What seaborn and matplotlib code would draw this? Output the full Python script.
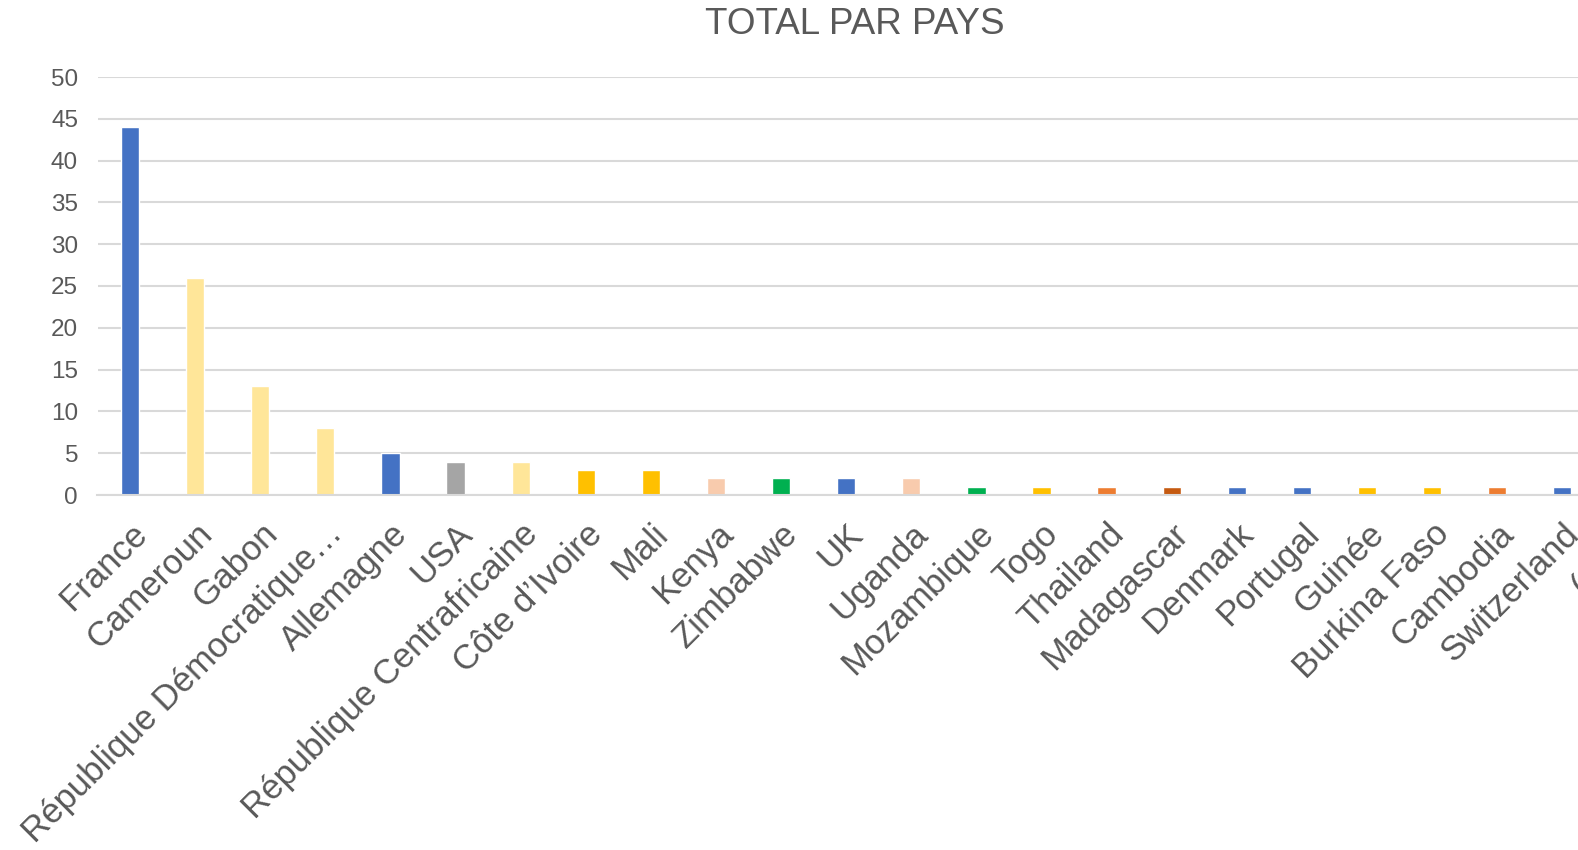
import matplotlib
matplotlib.use("Agg")
import matplotlib.pyplot as plt
import seaborn as sns
import pandas as pd

# Data
pays = [
    "France", "Cameroun", "Gabon", "République Démocratique…", "Allemagne", "USA",
    "République Centrafricaine", "Côte d’Ivoire", "Mali", "Kenya", "Zimbabwe", "UK",
    "Uganda", "Mozambique", "Togo", "Thailand", "Madagascar", "Denmark", "Portugal",
    "Guinée", "Burkina Faso", "Cambodia", "Switzerland", "(vide)",
]
totaux = [44, 26, 13, 8, 5, 4, 4, 3, 3, 2, 2, 2, 2, 1, 1, 1, 1, 1, 1, 1, 1, 1, 1, 0]

BLUE, LYELLOW, GRAY, GOLD = "#4472C4", "#FFE699", "#A5A5A5", "#FFC000"
PEACH, GREEN, ORANGE, DORANGE = "#F8CBAD", "#00B050", "#ED7D31", "#C55A11"
couleurs = [
    BLUE, LYELLOW, LYELLOW, LYELLOW, BLUE, GRAY, LYELLOW, GOLD, GOLD, PEACH, GREEN, BLUE,
    PEACH, GREEN, GOLD, ORANGE, DORANGE, BLUE, BLUE, GOLD, GOLD, ORANGE, BLUE, BLUE,
]

df = pd.DataFrame({"pays": pays, "total": totaux})

sns.set_style("white")
plt.rcParams["font.family"] = ["Liberation Sans", "DejaVu Sans"]
text_col = "#595959"
grid_col = "#D9D9D9"

fig = plt.figure(figsize=(15.78, 8.5), dpi=100)
# axes run past the right edge, like the cropped original
ax = fig.add_axes([97.5 / 1578, 355 / 850, (1660 - 97.5) / 1578, 418 / 850])

sns.barplot(data=df, x="pays", y="total", hue="pays", palette=couleurs,
            width=0.28, legend=False, saturation=1, ax=ax)

ax.set_ylim(0, 50)
ax.set_xlim(-0.5, len(pays) - 0.5)
ax.set_yticks(range(0, 51, 5))
ax.yaxis.grid(True, color=grid_col, linewidth=1.5)
ax.set_axisbelow(True)
for s in ["top", "right", "left"]:
    ax.spines[s].set_visible(False)
ax.spines["bottom"].set_color(grid_col)
ax.spines["bottom"].set_linewidth(1.5)
ax.set_xlabel("")
ax.set_ylabel("")

ax.tick_params(axis="y", length=0, pad=14, labelsize=17.5, labelcolor=text_col)
ax.tick_params(axis="x", length=0, pad=16, labelsize=25, labelcolor=text_col)
for lab in ax.get_xticklabels():
    lab.set_rotation(45)
    lab.set_ha("right")
    lab.set_va("top")
    lab.set_rotation_mode("anchor")

fig.text(855 / 1578, 1 - 24 / 850, "TOTAL PAR PAYS", ha="center", va="center",
         fontsize=26.5, color=text_col)

fig.savefig("out.png", dpi=100)
